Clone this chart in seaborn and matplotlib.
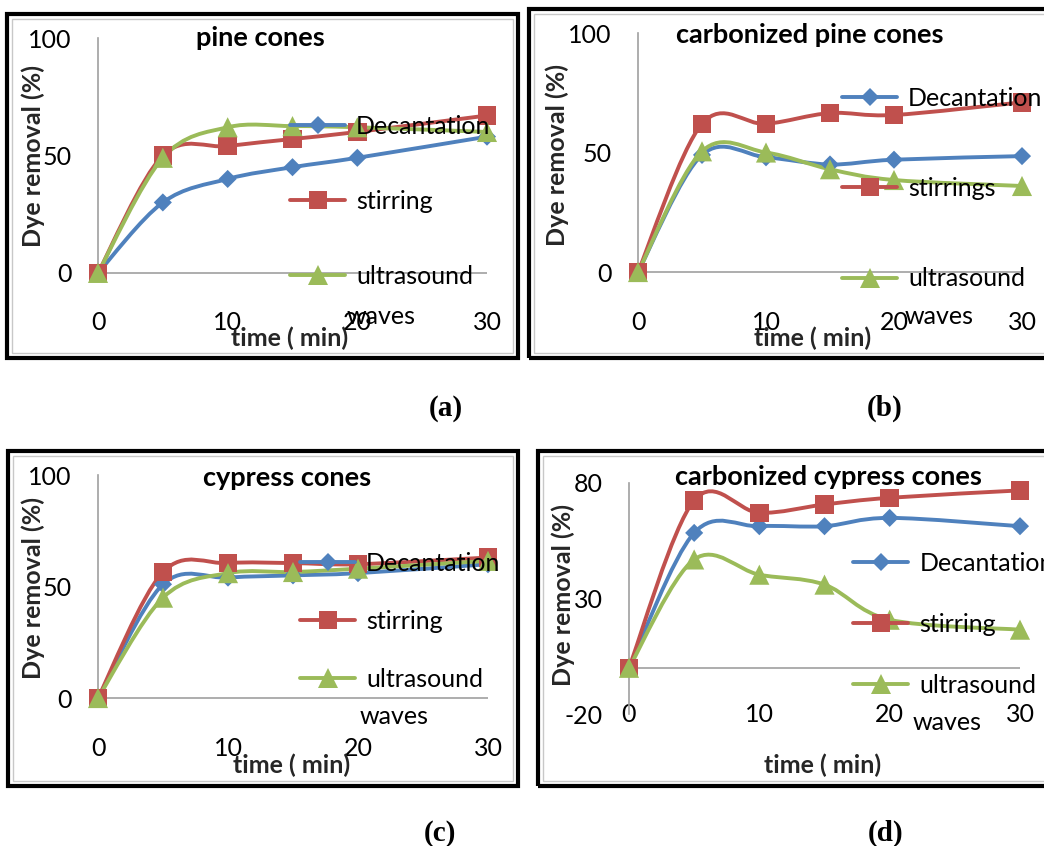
import matplotlib
matplotlib.use("Agg")
import numpy as np
import pandas as pd
import matplotlib.pyplot as plt
import seaborn as sns
from matplotlib.path import Path
from matplotlib.patches import PathPatch, Rectangle
from matplotlib.lines import Line2D

# ---- data ----
time_min = [0, 5, 10, 15, 20, 30]

pine_decantation = [0, 30, 40, 45, 49, 58]
pine_stirring = [0, 50, 54, 57, 60, 67]
pine_ultrasound = [0, 49, 62, 62.5, 62, 60]

carb_pine_decantation = [0, 49, 48, 45, 47, 48.5]
carb_pine_stirring = [0, 62, 62, 66.5, 65.7, 71]
carb_pine_ultrasound = [0, 50.5, 50, 43, 38.5, 36]

cypress_decantation = [0, 51, 54, 55, 56, 60]
cypress_stirring = [0, 56.5, 60.5, 60.5, 60, 63]
cypress_ultrasound = [0, 45, 56, 56.5, 58, 61.5]

carb_cypress_decantation = [0, 58.4, 61.3, 61.3, 64.9, 61.3]
carb_cypress_stirring = [0, 72.5, 67.1, 70.7, 73.6, 76.8]
carb_cypress_ultrasound = [0, 46.9, 40.3, 36, 20.8, 16.5]

x_ticks = [0, 10, 20, 30]
method_names = ["Decantation", "stirring", "ultrasound"]

colors = {"Decantation": "#4F81BD", "stirring": "#C0504D", "ultrasound": "#9BBB59"}
markers = {"Decantation": "D", "stirring": "s", "ultrasound": "^"}
sizes = {"Decantation": 85, "stirring": 175, "ultrasound": 210}

W, H = 1044, 846
FS = 18
TITLE_FS = 19.5
LW = 2.8
AXIS_GRAY = "#A0A0A0"


def fx(x):
    return x / W


def fy(y):
    return 1 - y / H


def smooth_path(xs, ys):
    # Excel-style smoothed line: Catmull-Rom segments as cubic Beziers
    pts = np.column_stack([xs, ys]).astype(float)
    ext = np.vstack([pts[0], pts, pts[-1]])
    verts, codes = [pts[0]], [Path.MOVETO]
    for i in range(len(pts) - 1):
        p0, p1, p2, p3 = ext[i], ext[i + 1], ext[i + 2], ext[i + 3]
        verts += [p1 + (p2 - p0) / 6, p2 - (p3 - p1) / 6, p2]
        codes += [Path.CURVE4] * 3
    return Path(verts, codes)


panels = [
    dict(title="pine cones", series=(pine_decantation, pine_stirring, pine_ultrasound),
         stir_label="stirring", box=(98, 38, 487, 322), ylim=(-20.9, 100), yticks=[0, 50, 100],
         title_xy=(260, 38), xlabel_xy=(290, 338), ylabel_xy=(33, 156),
         leg_x=290, leg_top=115, spacing=2.07, waves_xy=(347, 317),
         frame=(7, 14, 518, 358), caption="(a)", caption_xy=(446, 408)),
    dict(title="carbonized pine cones", series=(carb_pine_decantation, carb_pine_stirring, carb_pine_ultrasound),
         stir_label="stirrings", box=(638, 33, 1022, 322), ylim=(-20.9, 100), yticks=[0, 50, 100],
         title_xy=(810, 35), xlabel_xy=(813, 338), ylabel_xy=(557, 155),
         leg_x=842, leg_top=87, spacing=2.69, waves_xy=(905, 317),
         frame=(529, 9, 1052, 358), caption="(b)", caption_xy=(885, 408)),
    dict(title="cypress cones", series=(cypress_decantation, cypress_stirring, cypress_ultrasound),
         stir_label="stirring", box=(98, 475, 488, 748), ylim=(-22.4, 100), yticks=[0, 50, 100],
         title_xy=(287, 478), xlabel_xy=(292, 765), ylabel_xy=(33, 588),
         leg_x=300, leg_top=552, spacing=1.4, waves_xy=(360, 717),
         frame=(8, 451, 518, 786), caption="(c)", caption_xy=(440, 833)),
    dict(title="carbonized cypress cones", series=(carb_cypress_decantation, carb_cypress_stirring, carb_cypress_ultrasound),
         stir_label="stirring", box=(629, 483, 1020, 714), ylim=(-20, 80), yticks=[-20, 30, 80],
         title_xy=(828, 477), xlabel_xy=(823, 765), ylabel_xy=(563, 595),
         leg_x=853, leg_top=552, spacing=1.52, waves_xy=(913, 723),
         frame=(538, 451, 1052, 786), caption="(d)", caption_xy=(886, 833)),
]

sns.set_theme(style="white")
plt.rcParams["font.family"] = ["Lato", "DejaVu Sans"]
plt.rcParams["text.color"] = "black"
plt.rcParams["axes.unicode_minus"] = False

fig = plt.figure(figsize=(W / 100, H / 100), dpi=100, facecolor="white")

for p in panels:
    left, top, right, bottom = p["box"]
    ax = fig.add_axes([fx(left), fy(bottom), (right - left) / W, (bottom - top) / H])
    ax.set_facecolor("none")

    df = pd.DataFrame({
        "time": time_min * 3,
        "removal": [v for s in p["series"] for v in s],
        "method": [m for m in method_names for _ in time_min],
    })

    for m, vals in zip(method_names, p["series"]):
        ax.add_patch(PathPatch(smooth_path(time_min, vals), facecolor="none", edgecolor=colors[m],
                               lw=LW, clip_on=False, zorder=2, joinstyle="round", capstyle="round"))

    sns.scatterplot(data=df, x="time", y="removal", hue="method", style="method", size="method",
                    palette=colors, markers=markers, sizes=sizes, legend=False, ax=ax,
                    linewidth=0, clip_on=False, zorder=3)

    ax.set_xlim(0, 30)
    ax.set_ylim(*p["ylim"])
    ax.set_xticks(x_ticks)
    ax.set_yticks(p["yticks"])
    ax.tick_params(axis="x", length=0, pad=0, labelsize=FS, colors="black")
    ax.tick_params(axis="y", length=0, pad=19, labelsize=FS, colors="black")
    for lbl in ax.get_xticklabels():
        lbl.set_va("center")

    for side in ["top", "right", "bottom"]:
        ax.spines[side].set_visible(False)
    ax.spines["left"].set_bounds(min(0, p["yticks"][0]), p["ylim"][1])
    ax.spines["left"].set_color(AXIS_GRAY)
    ax.spines["left"].set_linewidth(1.2)
    ax.axhline(0, color=AXIS_GRAY, lw=1.2, zorder=1)

    ax.set_xlabel("time ( min)", fontsize=FS, fontweight="bold")
    ax.xaxis.set_label_coords(fx(p["xlabel_xy"][0]), fy(p["xlabel_xy"][1]), transform=fig.transFigure)
    ax.xaxis.label.set_va("center")
    ax.set_ylabel("Dye removal (%)", fontsize=FS, fontweight="bold")
    ax.yaxis.set_label_coords(fx(p["ylabel_xy"][0]), fy(p["ylabel_xy"][1]), transform=fig.transFigure)
    ax.yaxis.label.set_va("center")

    fig.text(fx(p["title_xy"][0]), fy(p["title_xy"][1]), p["title"], ha="center", va="center",
             fontsize=TITLE_FS, fontweight="bold")

    handles = [Line2D([], [], color=colors[m], lw=LW, marker=markers[m],
                      markersize=np.sqrt(sizes[m]), markeredgewidth=0) for m in method_names]
    labels = ["Decantation", p["stir_label"], "ultrasound"]
    ax.legend(handles, labels, loc="upper left", bbox_to_anchor=(fx(p["leg_x"]), fy(p["leg_top"])),
              bbox_transform=fig.transFigure, frameon=False, borderpad=0, borderaxespad=0,
              handlelength=2.2, handletextpad=0.45, labelspacing=p["spacing"], fontsize=FS)
    fig.text(fx(p["waves_xy"][0]), fy(p["waves_xy"][1]), "waves", ha="left", va="center", fontsize=FS)

    x0, y0, x1, y1 = p["frame"]
    fig.add_artist(Rectangle((fx(x0), fy(y1)), (x1 - x0) / W, (y1 - y0) / H, transform=fig.transFigure,
                             fill=False, edgecolor="black", lw=3, zorder=0))
    fig.add_artist(Rectangle((fx(x0 + 5), fy(y1 - 5)), (x1 - x0 - 10) / W, (y1 - y0 - 10) / H,
                             transform=fig.transFigure, fill=False, edgecolor="#C8C8C8", lw=1, zorder=0))

    fig.text(fx(p["caption_xy"][0]), fy(p["caption_xy"][1]), p["caption"], ha="center", va="center",
             fontsize=21, fontweight="bold", family="Liberation Serif")

fig.savefig("out.png", dpi=100, facecolor="white")
